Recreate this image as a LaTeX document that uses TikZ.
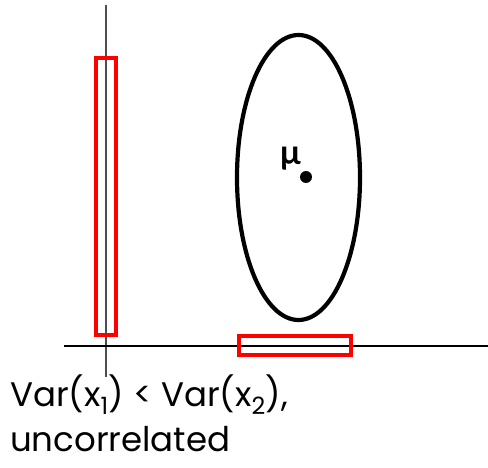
\documentclass[tikz,border=0pt]{standalone}
\usepackage{fontspec}
\setmainfont{Poppins}
\newfontfamily\greekfont{Lato}
\usepackage{xcolor}
\definecolor{axisgray}{HTML}{4D4D4D}
\definecolor{boxred}{HTML}{FF0000}

\begin{document}
\begin{tikzpicture}[
  x=1pt,
  y=-1pt,
  every node/.style={font=\fontsize{34}{45}\selectfont, black},
  axis/.style={line width=1.8pt},
  projbox/.style={boxred, line width=4pt},
  contour/.style={black, line width=4.2pt}
]
  \useasboundingbox (0,0) rectangle (488,468);

  % ---- axes ------------------------------------------------------------
  \draw[axis, axisgray] (106,5) -- (106,377);
  \draw[axis] (64,346) -- (488,346);

  % ---- spread along each axis ------------------------------------------
  \draw[projbox] (96,58) rectangle (116,335);
  \draw[projbox] (239,336) rectangle (351,355);

  % ---- the distribution contour and its mean ---------------------------
  \draw[contour] (298.5,177.5) ellipse [x radius=61.5, y radius=142.5];
  \fill (306,177) circle [radius=6];
  \node[anchor=base east, inner sep=0pt,
        font=\greekfont\fontsize{34}{36}\selectfont\bfseries]
    (mu) at (301,165) {μ};

  % ---- caption ---------------------------------------------------------
  \node[anchor=base west, inner sep=0pt] (cap1) at (10,406)
    {Var(x\textsubscript{1}) < Var(x\textsubscript{2}),};
  \node[anchor=base west, inner sep=0pt] (cap2) at (10,451)
    {uncorrelated};
\end{tikzpicture}
\end{document}
